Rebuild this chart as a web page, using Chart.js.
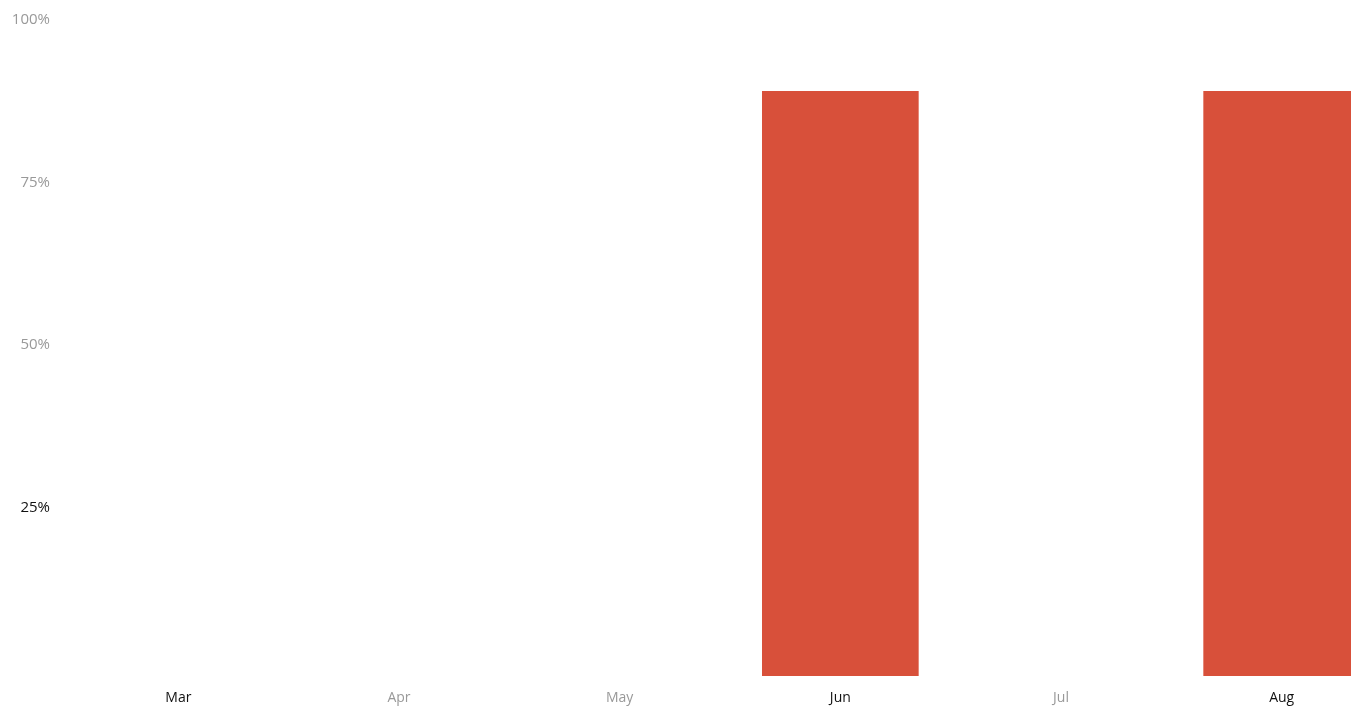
<!DOCTYPE html>
<html>
<head>
<meta charset="utf-8">
<script src="https://cdn.jsdelivr.net/npm/chart.js@4"></script>
<style>
html,body{margin:0;padding:0;background:#fff;overflow:hidden;}
#wrap{width:1392px;height:707px;position:relative;}
</style>
</head>
<body>
<div id="wrap"><canvas id="c"></canvas></div>
<script>
const categories = ['Mar','Apr','May','Jun','Jul','Aug'];
const values = [null, null, null, 90, null, 90];
const xLabelColors = ['#111','#999','#999','#111','#999','#111'];
const yTickValues = [0,25,50,75,100];
const yLabelColors = {25:'#111',50:'#999',75:'#999',100:'#999'};

new Chart(document.getElementById('c'), {
  type: 'bar',
  data: {
    labels: categories,
    datasets: [{
      data: values,
      backgroundColor: '#D8503A',
      borderWidth: 0,
      barPercentage: 0.71,
      categoryPercentage: 1
    }]
  },
  options: {
    responsive: true,
    maintainAspectRatio: false,
    animation: false,
    layout: {padding: {top: 26, right: 0, bottom: 0, left: 0}},
    plugins: {legend: {display: false}, tooltip: {enabled: false}},
    scales: {
      x: {
        afterFit: (s) => { s.height = 31; },
        grid: {display: false},
        border: {display: false},
        ticks: {
          padding: 6,
          font: {family: 'Open Sans', size: 14},
          color: (ctx) => xLabelColors[ctx.index]
        }
      },
      y: {
        min: 0, max: 100,
        afterFit: (s) => { s.width = 68; },
        afterBuildTicks: (s) => { s.ticks = yTickValues.map(v => ({value: v})); },
        grid: {display: false},
        border: {display: false},
        ticks: {
          padding: 10,
          labelOffset: -6,
          font: {family: 'Open Sans', size: 15},
          color: (ctx) => yLabelColors[ctx.tick.value] || '#999',
          callback: (v) => v === 0 ? '' : v + '%'
        }
      }
    }
  }
});
</script>
</body>
</html>
